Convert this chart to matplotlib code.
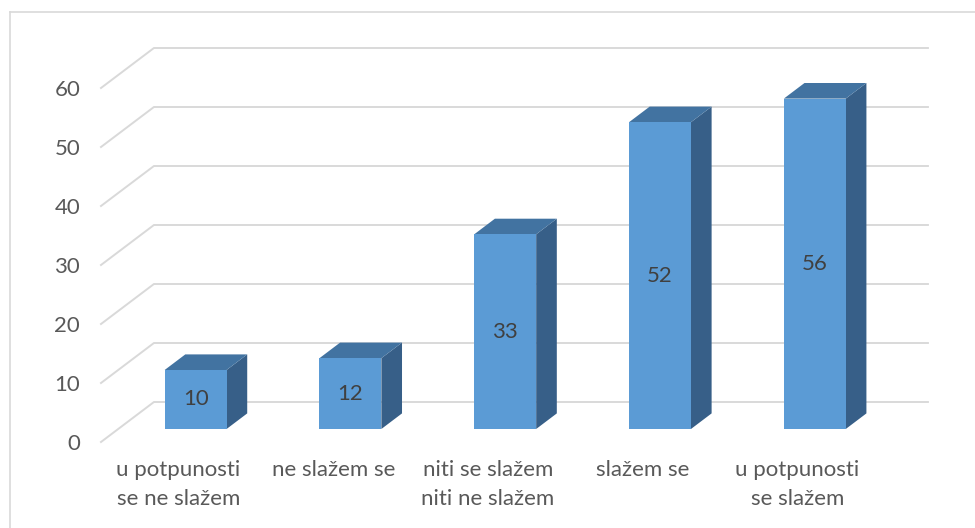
import matplotlib as mpl
mpl.use('Agg')
import matplotlib.pyplot as plt
from matplotlib.patches import Polygon
from matplotlib.lines import Line2D

plt.rcParams['font.family'] = ['Lato', 'DejaVu Sans']

categories = ['u potpunosti\nse ne slažem', 'ne slažem se',
              'niti se slažem\nniti ne slažem', 'slažem se',
              'u potpunosti\nse slažem']
values = [10, 12, 33, 52, 56]
yticks = [0, 10, 20, 30, 40, 50, 60]

c_front = '#5B9BD5'
c_top = '#4273A1'
c_side = '#375F88'
c_grid = '#D9D9D9'
c_text = '#595959'

# oblique projection: full depth of the plot box in data units
depth_dx, depth_dy = 0.342, 6.78
bar_w = 0.40
bar_d0, bar_d1 = 0.325, 0.715   # depth range of the bars (fraction)

fig = plt.figure(figsize=(9.75, 5.28), dpi=100)
ax = fig.add_axes([101/975, 1-442/528, 774/975, 354/528])
ax.set_xlim(-0.5, len(categories)-0.5)
ax.set_ylim(0, 60)
for s in ax.spines.values():
    s.set_visible(False)

# gridlines on side and back wall
xl, xr = -0.5, len(categories)-0.5
for v in yticks:
    ax.plot([xl, xl+depth_dx, xr+depth_dx], [v, v+depth_dy, v+depth_dy],
            color=c_grid, lw=1.4, clip_on=False, zorder=1)

# bars
for i, v in enumerate(values):
    ox, oy = bar_d0*depth_dx, bar_d0*depth_dy
    bx, by = (bar_d1-bar_d0)*depth_dx, (bar_d1-bar_d0)*depth_dy
    x0, x1 = i-bar_w/2+ox, i+bar_w/2+ox
    y0, y1 = oy, oy+v
    front = Polygon([(x0, y0), (x1, y0), (x1, y1), (x0, y1)], closed=True,
                    fc=c_front, ec='none', clip_on=False, zorder=3)
    top = Polygon([(x0, y1), (x1, y1), (x1+bx, y1+by), (x0+bx, y1+by)],
                  closed=True, fc=c_top, ec='none', clip_on=False, zorder=3)
    side = Polygon([(x1, y0), (x1+bx, y0+by), (x1+bx, y1+by), (x1, y1)],
                   closed=True, fc=c_side, ec='none', clip_on=False, zorder=3)
    for p in (side, top, front):
        ax.add_patch(p)
    ax.text((x0+x1)/2, (y0+y1)/2, str(v), ha='center', va='center',
            fontsize=16, color='#404040', zorder=4)

ax.set_yticks(yticks)
ax.set_yticklabels([str(t) for t in yticks])
ax.set_xticks(range(len(categories)))
ax.set_xticklabels(categories, linespacing=1.55)
ax.tick_params(axis='both', length=0, labelsize=16, labelcolor=c_text)
ax.tick_params(axis='y', pad=15)
ax.tick_params(axis='x', pad=13)

# chart area border (top and left visible)
fig.add_artist(Line2D([10/975, 1], [1-12/528, 1-12/528], color=c_grid, lw=1.2))
fig.add_artist(Line2D([10/975, 10/975], [0, 1-12/528], color=c_grid, lw=1.2))

plt.savefig('out.png', dpi=100)
plt.close()
